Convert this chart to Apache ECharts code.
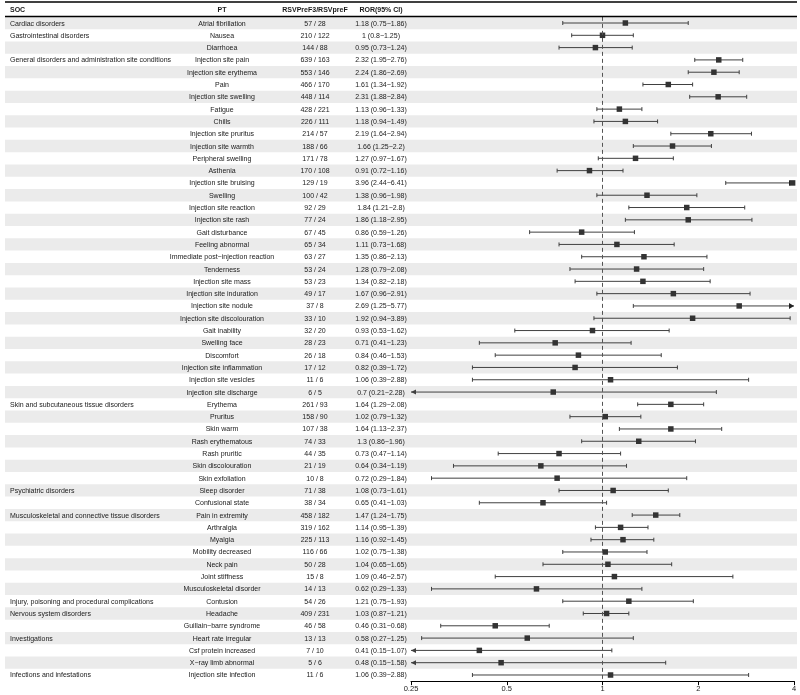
<!DOCTYPE html>
<html>
<head>
<meta charset="utf-8">
<script src="https://cdn.jsdelivr.net/npm/echarts@6/dist/echarts.min.js"></script>
<style>html,body{margin:0;padding:0;background:#fff;}#c{width:800px;height:695px;will-change:transform;}</style>
</head>
<body>
<div id="c"></div>
<script>
var soc = ["Cardiac disorders","Gastrointestinal disorders","","General disorders and administration site conditions","","","","","","","","","","","","","","","","","","","","","","","","","","","","Skin and subcutaneous tissue disorders","","","","","","","Psychiatric disorders","","Musculoskeletal and connective tissue disorders","","","","","","","Injury, poisoning and procedural complications","Nervous system disorders","","Investigations","","","Infections and infestations"];
var pt = ["Atrial fibrillation","Nausea","Diarrhoea","Injection site pain","Injection site erythema","Pain","Injection site swelling","Fatigue","Chills","Injection site pruritus","Injection site warmth","Peripheral swelling","Asthenia","Injection site bruising","Swelling","Injection site reaction","Injection site rash","Gait disturbance","Feeling abnormal","Immediate post\u2212injection reaction","Tenderness","Injection site mass","Injection site induration","Injection site nodule","Injection site discolouration","Gait inability","Swelling face","Discomfort","Injection site inflammation","Injection site vesicles","Injection site discharge","Erythema","Pruritus","Skin warm","Rash erythematous","Rash pruritic","Skin discolouration","Skin exfoliation","Sleep disorder","Confusional state","Pain in extremity","Arthralgia","Myalgia","Mobility decreased","Neck pain","Joint stiffness","Musculoskeletal disorder","Contusion","Headache","Guillain\u2212barre syndrome","Heart rate irregular","Csf protein increased","X\u2212ray limb abnormal","Injection site infection"];
var nF3 = [57,210,144,639,553,466,448,428,226,214,188,171,170,129,100,92,77,67,65,63,53,53,49,37,33,32,28,26,17,11,6,261,158,107,74,44,21,10,71,38,458,319,225,116,50,15,14,54,409,46,13,7,5,11];
var nPreF = [28,122,88,163,146,170,114,221,111,57,66,78,108,19,42,29,24,45,34,27,24,23,17,8,10,20,23,18,12,6,5,93,90,38,33,35,19,8,38,34,182,162,113,66,28,8,13,26,231,58,13,10,6,6];
var ror = [1.18,1,0.95,2.32,2.24,1.61,2.31,1.13,1.18,2.19,1.66,1.27,0.91,3.96,1.38,1.84,1.86,0.86,1.11,1.35,1.28,1.34,1.67,2.69,1.92,0.93,0.71,0.84,0.82,1.06,0.7,1.64,1.02,1.64,1.3,0.73,0.64,0.72,1.08,0.65,1.47,1.14,1.16,1.02,1.04,1.09,0.62,1.21,1.03,0.46,0.58,0.41,0.48,1.06];
var lo = [0.75,0.8,0.73,1.95,1.86,1.34,1.88,0.96,0.94,1.64,1.25,0.97,0.72,2.44,0.96,1.21,1.18,0.59,0.73,0.86,0.79,0.82,0.96,1.25,0.94,0.53,0.41,0.46,0.39,0.39,0.21,1.29,0.79,1.13,0.86,0.47,0.34,0.29,0.73,0.41,1.24,0.95,0.92,0.75,0.65,0.46,0.29,0.75,0.87,0.31,0.27,0.15,0.15,0.39];
var hi = [1.86,1.25,1.24,2.76,2.69,1.92,2.84,1.33,1.49,2.94,2.2,1.67,1.16,6.41,1.98,2.8,2.95,1.26,1.68,2.13,2.08,2.18,2.91,5.77,3.89,1.62,1.23,1.53,1.72,2.88,2.28,2.08,1.32,2.37,1.96,1.14,1.19,1.84,1.61,1.03,1.75,1.39,1.45,1.38,1.65,2.57,1.33,1.93,1.21,0.68,1.25,1.07,1.58,2.88];
var headers = ["SOC","PT","RSVPreF3/RSVpreF","ROR(95% CI)"];
var xTicks = [0.25,0.5,1,2,4];

var AXMIN = 0.25, AXMAX = 4;
var FONT = '7px "Liberation Sans", Arial, sans-serif';
var BFONT = 'bold 7px "Liberation Sans", Arial, sans-serif';
var TXT = '#1a1a1a';
var COL = {soc: 10, pt: 222, n: 315, ror: 381};

var rows = pt.map(function (d, i) { return String(i); });
var stripeData = pt.map(function (d, i) { return [AXMIN, i]; });
var textData = pt.map(function (d, i) { return [AXMIN, i]; });
var ciData = pt.map(function (d, i) { return [ror[i], i, lo[i], hi[i]]; });

var chart = echarts.init(document.getElementById('c'), null, {renderer: 'svg'});
chart.setOption({
  animation: false,
  backgroundColor: '#ffffff',
  grid: {left: 411, right: 6, top: 16.85, bottom: 13.85, containLabel: false},
  xAxis: {
    type: 'log', logBase: 2, min: AXMIN, max: AXMAX,
    axisLine: {show: true, lineStyle: {color: '#000', width: 1}},
    axisTick: {show: true, length: 4, lineStyle: {color: '#000'}},
    minorTick: {show: false},
    splitLine: {show: false},
    axisLabel: {
      margin: 3, color: TXT, fontSize: 7.5, fontFamily: '"Liberation Sans", Arial, sans-serif',
      formatter: function (v) {
        for (var k = 0; k < xTicks.length; k++) { if (Math.abs(v - xTicks[k]) < 1e-6) return String(xTicks[k]); }
        return '';
      }
    }
  },
  yAxis: {type: 'category', data: rows, inverse: true, show: false, boundaryGap: true},
  graphic: [
    {type: 'line', shape: {x1: 5, y1: 2, x2: 797, y2: 2}, style: {stroke: '#000', lineWidth: 1.5}, z: 10},
    {type: 'line', shape: {x1: 5, y1: 16.5, x2: 797, y2: 16.5}, style: {stroke: '#000', lineWidth: 1.5}, z: 10},
    {type: 'text', style: {text: headers[0], x: COL.soc, y: 9.5, align: 'left', verticalAlign: 'middle', font: BFONT, fill: TXT}},
    {type: 'text', style: {text: headers[1], x: COL.pt, y: 9.5, align: 'center', verticalAlign: 'middle', font: BFONT, fill: TXT}},
    {type: 'text', style: {text: headers[2], x: COL.n, y: 9.5, align: 'center', verticalAlign: 'middle', font: BFONT, fill: TXT}},
    {type: 'text', style: {text: headers[3], x: COL.ror, y: 9.5, align: 'center', verticalAlign: 'middle', font: BFONT, fill: TXT}}
  ],
  series: [
    {
      type: 'custom', name: 'stripes', z: 0, clip: false, silent: true,
      data: stripeData, encode: {x: 0, y: 1},
      renderItem: function (params, api) {
        var i = api.value(1);
        if (i % 2 !== 0) return null;
        var c = api.coord([AXMIN, i]);
        var h = api.size([0, 1])[1];
        return {type: 'rect', shape: {x: 5, y: c[1] - h / 2, width: api.getWidth() - 8, height: h}, style: {fill: '#ebebeb'}};
      }
    },
    {
      type: 'custom', name: 'table', z: 2, clip: false, silent: true,
      data: textData, encode: {x: 0, y: 1},
      renderItem: function (params, api) {
        var i = api.value(1);
        var y = api.coord([AXMIN, i])[1];
        var t = function (s, x, al) {
          return {type: 'text', style: {text: s, x: x, y: y, align: al, verticalAlign: 'middle', font: FONT, fill: TXT}};
        };
        return {type: 'group', children: [
          t(soc[i], COL.soc, 'left'),
          t(pt[i], COL.pt, 'center'),
          t(nF3[i] + ' / ' + nPreF[i], COL.n, 'center'),
          t(ror[i] + ' (' + lo[i] + '\u2212' + hi[i] + ')', COL.ror, 'center')
        ]};
      }
    },
    {
      type: 'custom', name: 'ci', z: 4, clip: false,
      data: ciData, encode: {x: 0, y: 1},
      renderItem: function (params, api) {
        var i = api.value(1);
        var r = api.value(0), l = api.value(2), u = api.value(3);
        var pl = api.coord([Math.max(l, AXMIN), i]);
        var pu = api.coord([Math.min(u, AXMAX), i]);
        var pc = api.coord([Math.min(Math.max(r, AXMIN), AXMAX), i]);
        var y = pl[1];
        var line = '#404040';
        var ch = [
          {type: 'line', shape: {x1: pl[0], y1: y, x2: pu[0], y2: y}, style: {stroke: line, lineWidth: 1}}
        ];
        if (l < AXMIN) {
          ch.push({type: 'polygon', shape: {points: [[pl[0], y], [pl[0] + 5, y - 2.5], [pl[0] + 5, y + 2.5]]}, style: {fill: line}});
        } else {
          ch.push({type: 'line', shape: {x1: pl[0], y1: y - 2, x2: pl[0], y2: y + 2}, style: {stroke: line, lineWidth: 1}});
        }
        if (u > AXMAX) {
          ch.push({type: 'polygon', shape: {points: [[pu[0], y], [pu[0] - 5, y - 3], [pu[0] - 5, y + 3]]}, style: {fill: '#222'}});
        } else {
          ch.push({type: 'line', shape: {x1: pu[0], y1: y - 2, x2: pu[0], y2: y + 2}, style: {stroke: line, lineWidth: 1}});
        }
        ch.push({type: 'rect', shape: {x: pc[0] - 2.75, y: y - 2.75, width: 5.5, height: 5.5}, style: {fill: '#333'}});
        return {type: 'group', children: ch};
      },
      markLine: {
        silent: true, symbol: ['none', 'none'], label: {show: false},
        lineStyle: {color: '#555', type: [4, 3], width: 1},
        data: [{xAxis: 1}]
      }
    }
  ]
});
</script>
</body>
</html>
